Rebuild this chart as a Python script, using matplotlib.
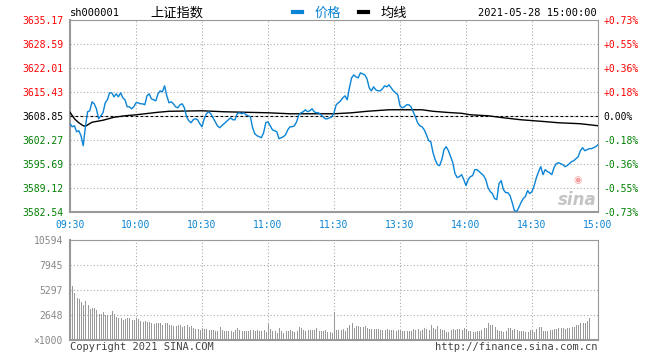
import matplotlib.pyplot as plt
from matplotlib.lines import Line2D

# ---- data ----
prev_close = 3608.85

# one price per minute, 09:30..11:30 (121) then 13:01..15:00 (120)
price_am = [
    3606.66, 3605.83, 3606.11, 3604.46, 3604.74, 3603.37, 3600.63, 3605.83, 3609.95, 3610.22,
    3612.69, 3612.14, 3610.77, 3608.03, 3608.85, 3609.67, 3612.41, 3613.24, 3615.16, 3615.16,
    3614.06, 3614.88, 3614.06, 3615.16, 3613.78, 3613.24, 3611.32, 3611.32, 3610.77, 3611.32,
    3612.41, 3612.41, 3612.14, 3612.14, 3611.87, 3614.33, 3614.88, 3613.51, 3613.24, 3612.96,
    3614.88, 3615.70, 3615.43, 3617.08, 3614.33, 3612.41, 3612.69, 3612.14, 3611.32, 3611.04,
    3611.87, 3612.14, 3611.04, 3608.58, 3607.48, 3606.93, 3607.75, 3608.03, 3607.75, 3606.66,
    3605.83, 3608.03, 3609.40, 3609.95, 3609.40, 3608.30, 3607.20, 3606.11, 3605.56, 3606.11,
    3606.66, 3607.20, 3607.75, 3608.30, 3607.75, 3607.75, 3609.40, 3609.67, 3609.40, 3609.67,
    3609.12, 3608.85, 3608.58, 3605.56, 3603.92, 3603.37, 3603.09, 3602.82, 3604.19, 3606.93,
    3607.20, 3606.11, 3605.01, 3604.74, 3604.46, 3602.54, 3602.82, 3603.09, 3603.64, 3605.01,
    3605.83, 3605.83, 3606.11, 3607.20, 3609.12, 3609.67, 3609.95, 3610.50, 3609.95, 3610.22,
    3610.77, 3609.95, 3609.67, 3609.67, 3609.12, 3608.58, 3608.03, 3608.03, 3608.30, 3608.58,
    3609.67,
]
price_pm = [
    3611.87, 3612.41, 3612.96, 3613.78, 3614.33, 3613.24, 3616.53, 3619.27, 3620.09, 3619.54,
    3619.27, 3620.64, 3620.37, 3620.09, 3619.00, 3616.53, 3615.70, 3616.80, 3615.98, 3615.70,
    3615.70, 3616.25, 3617.08, 3616.80, 3617.35, 3616.53, 3615.70, 3615.16, 3614.61, 3611.59,
    3611.04, 3611.32, 3611.87, 3611.87, 3611.32, 3609.95, 3608.58, 3606.93, 3606.11, 3605.83,
    3605.01, 3603.64, 3602.00, 3601.72, 3598.71, 3596.79, 3595.42, 3595.14, 3596.79, 3599.53,
    3600.35, 3599.25, 3597.61, 3595.96, 3592.95, 3591.85, 3592.13, 3592.67, 3591.30, 3589.66,
    3591.30, 3592.13, 3592.40, 3594.05, 3594.05, 3593.50, 3592.95, 3592.40, 3591.30, 3589.11,
    3588.01, 3587.47, 3586.09, 3585.82, 3590.21, 3591.03, 3588.56, 3587.74, 3587.74, 3586.92,
    3585.00, 3582.80, 3582.54, 3583.63, 3585.00, 3586.09, 3586.64, 3588.29, 3587.47, 3588.01,
    3589.66, 3591.85, 3593.50, 3594.87, 3592.67, 3594.05, 3593.50, 3593.22, 3592.67, 3594.59,
    3595.69, 3595.96, 3595.69, 3595.42, 3594.87, 3595.14, 3595.69, 3596.24, 3596.52, 3597.06,
    3597.61, 3599.25, 3600.08, 3599.25, 3599.53, 3599.80, 3599.80, 3600.08, 3600.35, 3600.90,
]

# volume (x1000), one bar per minute
volume_am = [
    10594, 5720, 5014, 4484, 4343, 4025, 3708, 4131, 3708, 3249,
    3390, 3390, 3178, 2754, 2754, 2966, 2648, 2648, 2648, 3072,
    2719, 2472, 2330, 2330, 2154, 2260, 2330, 2330, 2119, 2119,
    2330, 2260, 2048, 1942, 2048, 1871, 1871, 1766, 1695, 1766,
    1801, 1801, 1624, 1801, 1801, 1624, 1554, 1518, 1518, 1589,
    1554, 1412, 1518, 1589, 1342, 1483, 1271, 1165, 1165, 1059,
    1236, 1165, 1130, 1059, 1059, 1059, 989, 953, 1377, 1095,
    953, 953, 953, 953, 847, 1059, 1236, 1024, 953, 989,
    953, 953, 1024, 1095, 953, 1095, 953, 953, 1059, 847,
    1695, 1165, 989, 989, 777, 1271, 953, 777, 953, 953,
    1024, 953, 847, 989, 1342, 1236, 1059, 953, 1059, 1059,
    1059, 1059, 1271, 953, 953, 953, 1059, 847, 847, 777,
    3000,
]
volume_pm = [
    1059, 1059, 1059, 1130, 953, 1236, 1589, 1766, 1306, 1483,
    1483, 1342, 1342, 1483, 1236, 1165, 1165, 1165, 1130, 1130,
    1059, 1059, 1059, 1165, 1059, 1059, 1059, 953, 1059, 1059,
    953, 953, 953, 953, 953, 1130, 1059, 1165, 953, 1059,
    1236, 1165, 1059, 1589, 1236, 1165, 1483, 1165, 1059, 1059,
    847, 847, 1059, 1130, 1059, 1165, 1165, 1059, 1236, 1165,
    953, 953, 847, 847, 953, 953, 1059, 1236, 1306, 1766,
    1624, 1589, 1377, 1059, 953, 953, 847, 953, 1236, 1236,
    1059, 1165, 1059, 953, 953, 953, 847, 847, 1059, 1059,
    847, 1130, 1377, 1377, 953, 953, 953, 1059, 1059, 1130,
    1165, 1236, 1236, 1236, 1165, 1236, 1271, 1342, 1342, 1554,
    1589, 1766, 1836, 1836, 2048, 2295, 71, 0, 0, 0,
]

# average price line (均线)
avg_times = ["09:30", "09:32", "09:34", "09:36", "09:37", "09:40", "09:45", "09:50",
             "09:55", "10:00", "10:10", "10:15", "10:30", "10:40", "11:00", "11:10",
             "11:30", "13:08", "13:15", "13:25", "13:40", "13:45", "13:52", "13:58",
             "14:02", "14:10", "14:17", "14:25", "14:35", "14:42", "14:52", "15:00"]
avg_values = [3609.81, 3608.03, 3606.93, 3606.11, 3605.97, 3607.07, 3607.62, 3608.44,
              3608.85, 3609.12, 3609.81, 3610.08, 3610.22, 3609.95, 3609.67, 3609.40,
              3609.40, 3609.67, 3610.08, 3610.50, 3610.50, 3610.08, 3609.75, 3609.53,
              3609.12, 3608.85, 3608.30, 3607.75, 3607.29, 3606.93, 3606.66, 3606.11]

price_levels = [3582.54, 3589.12, 3595.69, 3602.27, 3608.85, 3615.43, 3622.01, 3628.59, 3635.17]
pct_labels = ["-0.73%", "-0.55%", "-0.36%", "-0.18%", "0.00%",
              "+0.18%", "+0.36%", "+0.55%", "+0.73%"]
time_labels = ["09:30", "10:00", "10:30", "11:00", "11:30", "13:30", "14:00", "14:30", "15:00"]
vol_levels = [0, 2648, 5297, 7945, 10594]
vol_labels = ["×1000", "2648", "5297", "7945", "10594"]


def minute_index(t):
    h, m = map(int, t.split(":"))
    mins = h * 60 + m
    if mins <= 11 * 60 + 30:
        return mins - (9 * 60 + 30)
    return 120 + mins - 13 * 60


price = price_am + price_pm
volume = volume_am + volume_pm
idx = list(range(len(price)))

BLUE = "#0a84d6"
RED = "#ff0000"
GREEN = "#008000"
GRID = "#aaaaaa"
FRAME = "#999999"
MONO = "DejaVu Sans Mono"
CJK = ["Noto Sans CJK SC", "DejaVu Sans"]

fig = plt.figure(figsize=(6.6, 3.6), dpi=100)
W, H = 660, 360
ax = fig.add_axes([70 / W, 1 - 211.5 / H, 528 / W, 191.5 / H])
axv = fig.add_axes([70 / W, 1 - 340 / H, 528 / W, 100 / H])


def style_frame(a):
    for s in a.spines.values():
        s.set_color(FRAME)
        s.set_linewidth(0.8)
    a.spines["left"].set_linewidth(1.5)
    a.spines["bottom"].set_linewidth(1.5)
    a.grid(True, color=GRID, linestyle=(0, (1, 2)), linewidth=0.8)
    a.set_axisbelow(True)
    a.tick_params(length=0)


# ---- price panel ----
ax.plot(idx, price, color=BLUE, lw=1.0, zorder=4)
ax.plot([minute_index(t) for t in avg_times], avg_values, color="black", lw=1.0, zorder=3)
ax.axhline(prev_close, color="black", lw=0.8, linestyle=(0, (2.5, 2)), zorder=3)
ax.set_xlim(0, 240)
ax.set_ylim(price_levels[0], price_levels[-1])
style_frame(ax)

ax.set_yticks(price_levels)
ax.set_yticklabels([f"{v:.2f}" for v in price_levels], family=MONO, fontsize=7)
for lab, v in zip(ax.get_yticklabels(), price_levels):
    lab.set_color(RED if v > prev_close + 0.01 else GREEN if v < prev_close - 0.01 else "black")
ax.tick_params(axis="y", pad=5)

ax.set_xticks([minute_index(t) for t in time_labels])
ax.set_xticklabels(time_labels, family=MONO, fontsize=7, color=BLUE)
ax.tick_params(axis="x", pad=6)

ax2 = ax.twinx()
ax2.set_ylim(ax.get_ylim())
ax2.set_yticks(price_levels)
ax2.set_yticklabels(pct_labels, family=MONO, fontsize=7)
for lab, v in zip(ax2.get_yticklabels(), price_levels):
    lab.set_color(RED if v > prev_close + 0.01 else GREEN if v < prev_close - 0.01 else "black")
ax2.tick_params(length=0, pad=4)
for s in ax2.spines.values():
    s.set_visible(False)

# sina watermark
ax.text(0.997, 0.06, "sina", transform=ax.transAxes, ha="right", va="center",
        fontsize=12, fontweight="bold", fontstyle="italic", color="#c4c4c4", zorder=2)
ax.text(0.962, 0.165, "◉", transform=ax.transAxes, ha="center", va="center",
        fontsize=7, color="#f4a0a0", zorder=2)

# ---- volume panel ----
axv.vlines(idx, 0, volume, color="#999999", lw=0.6, antialiased=False)
axv.set_xlim(0, 240)
axv.set_ylim(0, vol_levels[-1])
style_frame(axv)
axv.set_xticks([minute_index(t) for t in time_labels])
axv.set_xticklabels([])
axv.set_yticks(vol_levels)
axv.set_yticklabels(vol_labels, family=MONO, fontsize=7, color="#888888")
axv.tick_params(axis="y", pad=5)

# ---- header and footer text ----
fig.text(70 / W, 1 - 13 / H, "sh000001", family=MONO, fontsize=7.5, ha="left", va="center")
fig.text(177 / W, 1 - 13 / H, "上证指数", family=CJK, fontsize=9.5, ha="center", va="center")
handles = [Line2D([], [], color=BLUE, lw=3), Line2D([], [], color="black", lw=3)]
fig.legend(handles, ["价格", "均线"], loc="center", bbox_to_anchor=(350 / W, 1 - 13 / H),
           ncol=2, frameon=False, handlelength=0.7, handletextpad=0.9, columnspacing=1.4,
           prop={"family": CJK, "size": 9.5}, labelcolor=[BLUE, "black"])
fig.text(597 / W, 1 - 13 / H, "2021-05-28 15:00:00", family=MONO, fontsize=7.5,
         ha="right", va="center")
fig.text(70 / W, 1 - 347 / H, "Copyright 2021 SINA.COM", family=MONO, fontsize=7.5,
         ha="left", va="center", color="#444444")
fig.text(597 / W, 1 - 347 / H, "http://finance.sina.com.cn", family=MONO, fontsize=7.5,
         ha="right", va="center", color="#444444")

fig.savefig("out.png", dpi=100)
